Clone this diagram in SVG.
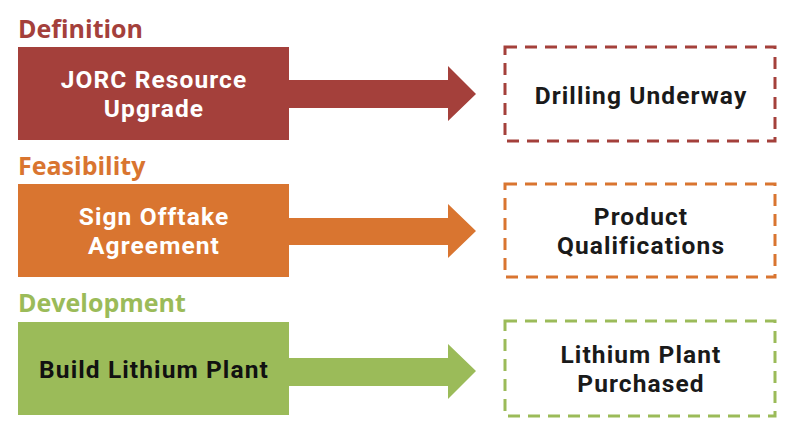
<svg xmlns="http://www.w3.org/2000/svg" width="800" height="430" viewBox="0 0 800 430">
<style>
.lbl{font-family:"Open Sans","Liberation Sans",sans-serif;font-weight:700;font-size:25px}
.t{font-family:Roboto,"Liberation Sans",sans-serif;font-weight:700;font-size:24.5px;letter-spacing:1.1px;text-anchor:middle}
.w{fill:#ffffff}
.k{fill:#1a1a1a}
.box{fill:#ffffff;stroke-width:3;stroke-dasharray:12 8}
</style>
<rect width="800" height="430" fill="#ffffff"/>
<g id="connectors">
<polygon points="289,80 448,80 448,66 476,94 448,121 448,108 289,108" fill="#A4403B"/>
<polygon points="289,218 448,218 448,204 476,231 448,258 448,245 289,245" fill="#D97530"/>
<polygon points="289,358 448,358 448,344 476,371 448,399 448,386 289,386" fill="#9BBB59"/>
</g>
<g id="definition">
<text class="lbl" x="18" y="38" fill="#A4403B">Definition</text>
<rect x="18" y="47" width="271" height="93" fill="#A4403B"/>
<text class="t w" x="154" y="88">JORC Resource</text>
<text class="t w" x="154" y="117">Upgrade</text>
</g>
<g id="drilling">
<rect class="box" x="505" y="47" width="270" height="94" stroke="#A4403B"/>
<text class="t k" x="641" y="104">Drilling Underway</text>
</g>
<g id="feasibility">
<text class="lbl" x="18" y="175" fill="#D97530">Feasibility</text>
<rect x="18" y="184" width="271" height="93" fill="#D97530"/>
<text class="t w" x="154" y="225">Sign Offtake</text>
<text class="t w" x="154" y="254">Agreement</text>
</g>
<g id="product">
<rect class="box" x="505" y="184" width="270" height="93" stroke="#D97530"/>
<text class="t k" x="641" y="225">Product</text>
<text class="t k" x="641" y="254">Qualifications</text>
</g>
<g id="development">
<text class="lbl" x="18" y="312" fill="#9BBB59">Development</text>
<rect x="18" y="322" width="271" height="93" fill="#9BBB59"/>
<text class="t" x="154" y="378" fill="#111111">Build Lithium Plant</text>
</g>
<g id="purchased">
<rect class="box" x="505" y="321" width="270" height="95" stroke="#9BBB59"/>
<text class="t k" x="641" y="363">Lithium Plant</text>
<text class="t k" x="641" y="392">Purchased</text>
</g>
</svg>
